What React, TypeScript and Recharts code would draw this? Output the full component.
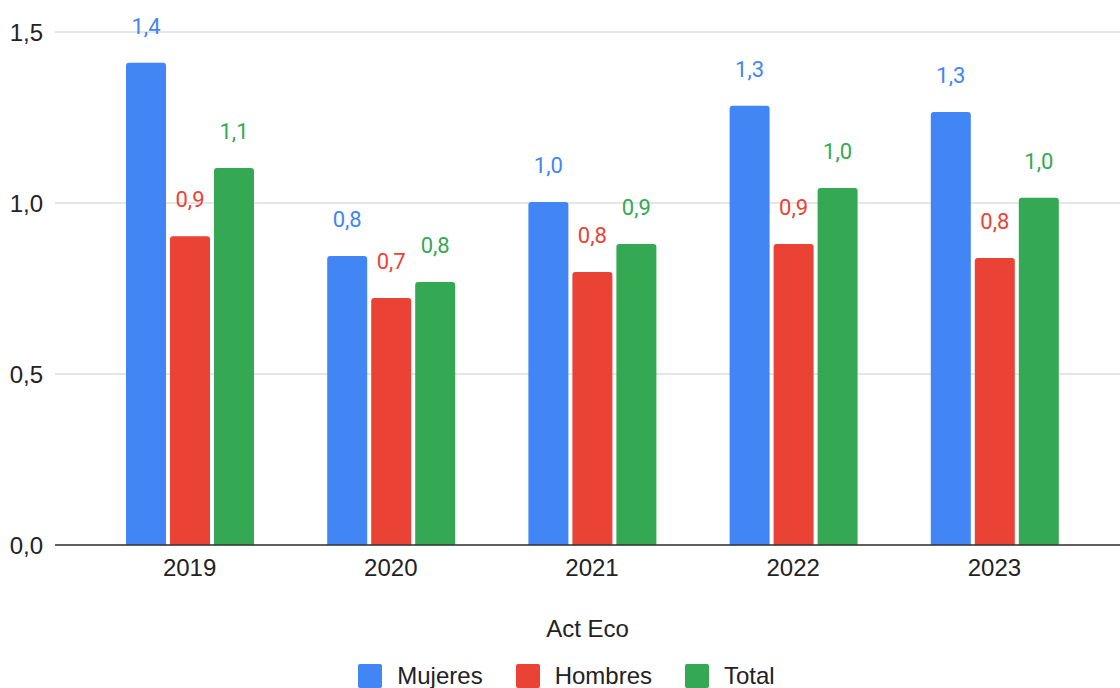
import { Bar, BarChart, CartesianGrid, LabelList, Legend, XAxis, YAxis } from "recharts"

const years = ["2019", "2020", "2021", "2022", "2023"]
const mujeres = [1.41, 0.845, 1.003, 1.284, 1.266]
const hombres = [0.903, 0.722, 0.798, 0.88, 0.839]
const total = [1.102, 0.769, 0.88, 1.044, 1.015]
const yTicks = [0, 0.5, 1, 1.5]

const series = [
  { key: "mujeres", name: "Mujeres", color: "#4285F4" },
  { key: "hombres", name: "Hombres", color: "#EA4335" },
  { key: "total", name: "Total", color: "#34A853" },
]

const data = years.map((year, i) => ({
  year,
  mujeres: mujeres[i],
  hombres: hombres[i],
  total: total[i],
}))

const fmt = (v: number) => Number(v).toFixed(1).replace(".", ",")

const axisFont = '"Liberation Sans", Arial, sans-serif'

function LegendContent() {
  return (
    <div
      style={{
        height: 43,
        display: "flex",
        justifyContent: "center",
        alignItems: "flex-start",
        paddingTop: 19,
        paddingLeft: 13,
        boxSizing: "border-box",
        fontFamily: axisFont,
        fontSize: 24,
        color: "#222",
      }}
    >
      {series.map((s, i) => (
        <div
          key={s.key}
          style={{ display: "flex", alignItems: "center", marginLeft: i === 0 ? 0 : 33 }}
        >
          <div style={{ width: 24, height: 24, background: s.color, borderRadius: 2, marginRight: 15 }} />
          <span style={{ lineHeight: "24px" }}>{s.name}</span>
        </div>
      ))}
    </div>
  )
}

export default function App() {
  return (
    <div style={{ position: "absolute", left: 0, top: 0, background: "#fff" }}>
      <BarChart
        width={1120}
        height={688}
        data={data}
        margin={{ top: 32, right: 0, left: 0, bottom: 0 }}
        barSize={40}
        barGap={4}
      >
        <CartesianGrid vertical={false} stroke="#cccccc" />
        <XAxis
          dataKey="year"
          height={100}
          padding={{ left: 34, right: 25 }}
          tickLine={false}
          tickSize={0}
          tickMargin={14}
          axisLine={{ stroke: "#333", strokeWidth: 1.5 }}
          tick={{ fill: "#222", fontSize: 24, fontFamily: axisFont }}
          label={{
            value: "Act Eco",
            position: "insideBottom",
            offset: 8,
            fill: "#222",
            fontSize: 24,
            fontFamily: axisFont,
          }}
        />
        <YAxis
          width={55}
          domain={[0, 1.5]}
          ticks={yTicks}
          axisLine={false}
          tickLine={false}
          tickSize={0}
          tickMargin={12}
          tickFormatter={fmt}
          tick={{ fill: "#222", fontSize: 24, fontFamily: axisFont }}
        />
        <Legend verticalAlign="bottom" content={<LegendContent />} />
        {series.map((s) => (
          <Bar
            key={s.key}
            dataKey={s.key}
            name={s.name}
            fill={s.color}
            radius={[3, 3, 0, 0]}
            isAnimationActive={false}
          >
            <LabelList
              dataKey={s.key}
              position="top"
              offset={29}
              formatter={(v: any) => fmt(v)}
              fill={s.color}
              fontSize={22}
              fontFamily="Roboto, sans-serif"
            />
          </Bar>
        ))}
      </BarChart>
    </div>
  )
}
